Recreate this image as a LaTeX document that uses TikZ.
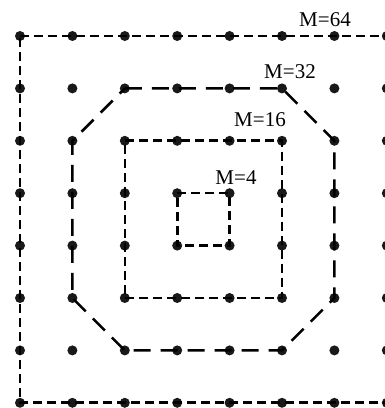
\documentclass[tikz,border=0pt]{standalone}
\usepackage{fontspec}
\setmainfont{Liberation Serif}
\begin{document}
\begin{tikzpicture}[x=1pt,y=1pt,
  dotnode/.style={circle,fill=black!90,inner sep=0pt,minimum size=10pt},
  lab/.style={font=\fontsize{21}{25}\selectfont,inner sep=0pt},
  dsixtyfour/.style={line width=2.6pt,dash pattern=on 9pt off 5pt},
  dthirtytwo/.style={line width=2.6pt,dash pattern=on 17pt off 10pt},
  dsixteen/.style={line width=2.6pt,dash pattern=on 9pt off 5pt},
  dfour/.style={line width=2.6pt,dash pattern=on 9pt off 5pt}]
\useasboundingbox (0,0) rectangle (385,408);
\foreach \i in {0,...,7}{
  \foreach \j in {0,...,7}{
    \node[dotnode] (d-\i-\j) at ({20+52.4*\i},{372-52.4*\j}) {};
  }
}
% M=64
\draw[dsixtyfour] (d-0-0.center) -- (d-7-0.center) -- (d-7-7.center) -- (d-0-7.center) -- cycle;
% M=32
\draw[dthirtytwo] (d-2-1.center) -- (d-5-1.center) -- (d-6-2.center) -- (d-6-5.center) -- (d-5-6.center) -- (d-2-6.center) -- (d-1-5.center) -- (d-1-2.center) -- cycle;
% M=16
\draw[dsixteen] (d-2-2.center) -- (d-5-2.center) -- (d-5-5.center) -- (d-2-5.center) -- cycle;
% M=4
\draw[dfour] (d-3-3.center) -- (d-4-3.center) -- (d-4-4.center) -- (d-3-4.center) -- cycle;
\node[lab] (l64) at (325,388) {M=64};
\node[lab] (l32) at (290,336) {M=32};
\node[lab] (l16) at (260,288) {M=16};
\node[lab] (l4) at (236,230) {M=4};
\end{tikzpicture}
\end{document}
